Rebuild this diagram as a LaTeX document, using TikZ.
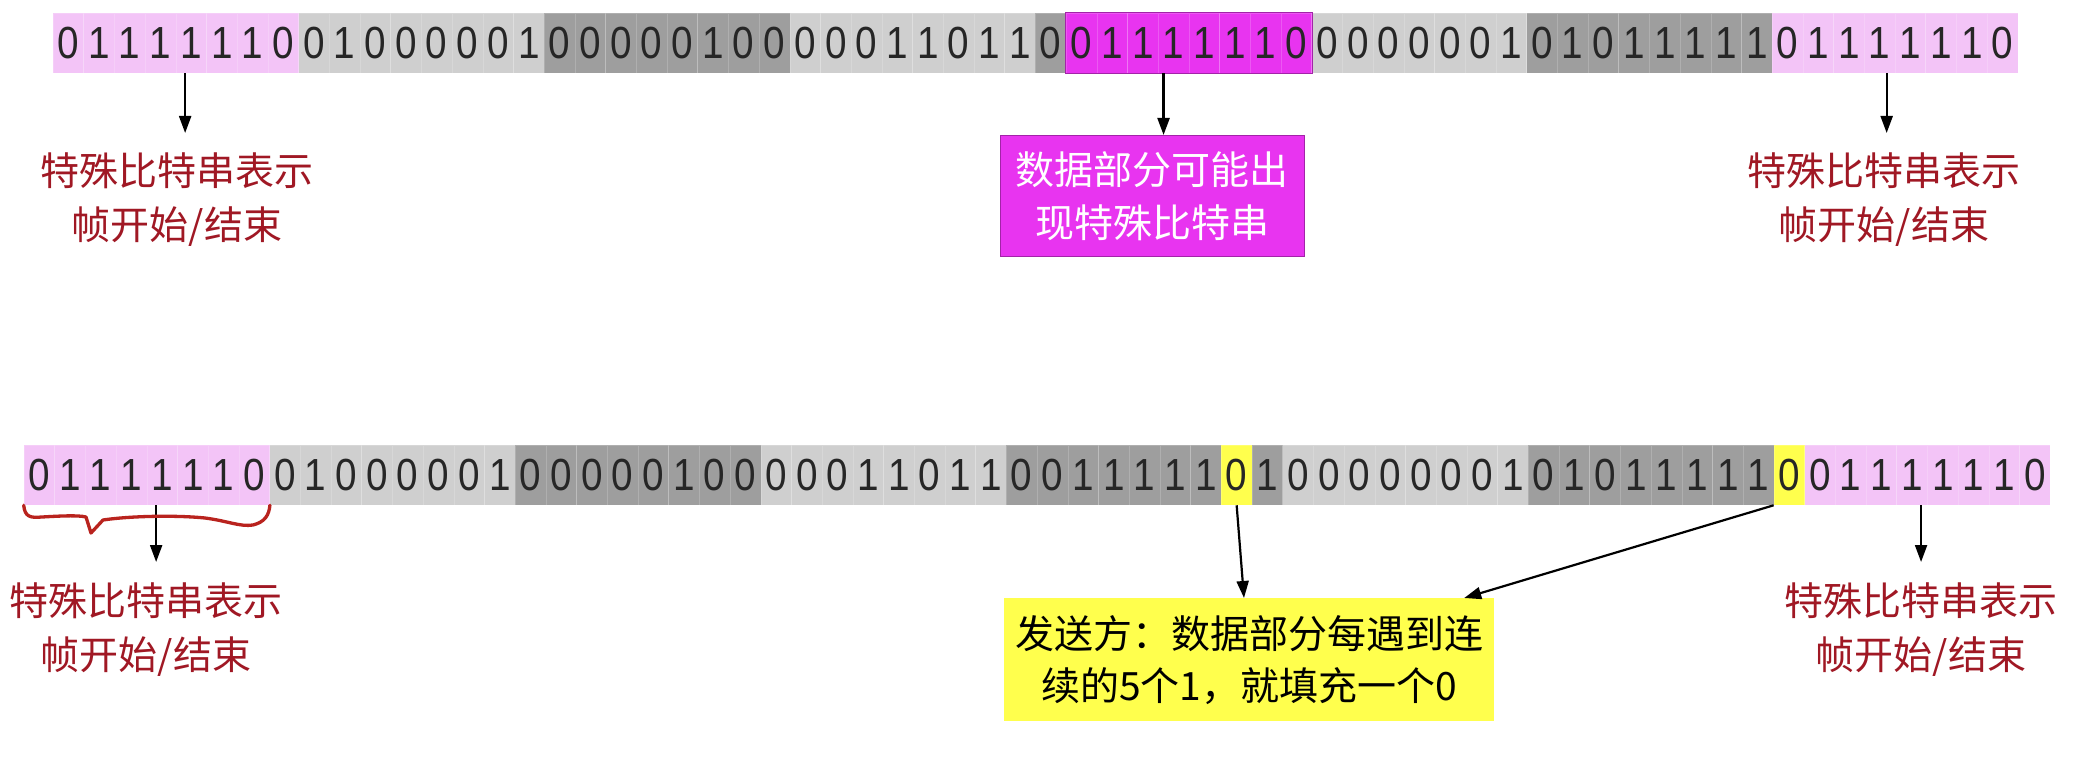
\documentclass[tikz,border=0pt]{standalone}
\usepackage{fontspec}
\newfontfamily\cjk{Noto Sans CJK SC}
\newfontfamily\digitfont[FakeStretch=0.86]{Liberation Sans}
\usetikzlibrary{arrows.meta}
\definecolor{pinkc}{RGB}{243,196,247}
\definecolor{lgray}{RGB}{207,207,207}
\definecolor{dgray}{RGB}{158,158,158}
\definecolor{magc}{RGB}{232,52,240}
\definecolor{yelc}{RGB}{255,255,77}
\definecolor{labred}{RGB}{160,24,36}
\definecolor{bracered}{RGB}{185,35,30}
\newcount\cellnum
\newcommand\bitgroup[5]{%
  \foreach \b in {#5}{%
    \global\advance\cellnum by 1
    \edef\idx{\the\cellnum}%
    \node[cell, fill=#4] (#1\idx) at ({#2+(\idx-0.5)*30.7}, #3) {\b};
  }}
\begin{document}
\begin{tikzpicture}[x=1pt,y=-1pt,
  cell/.style={rectangle, minimum width=30.7pt, minimum height=60pt, inner sep=0pt,
    draw=white, draw opacity=0.18, line width=0.6pt, text=black!85,
    font=\digitfont\fontsize{45}{48}\selectfont},
  lbl/.style={font=\cjk\fontsize{39}{54}\selectfont, text=labred, align=center,
    inner xsep=0pt, inner ysep=20pt, anchor=north},
  arr/.style={-{Triangle[length=17pt,width=12pt]}, line width=2.2pt},
  bracepen/.style={bracered, line width=3.3pt, line cap=round, line join=round}
  ]
\useasboundingbox (0,0) rectangle (2089,767);
\fill[white] (0,0) rectangle (2089,767);

% top row
\global\cellnum=0
\bitgroup{t}{53}{43}{pinkc}{0,1,1,1,1,1,1,0}
\bitgroup{t}{53}{43}{lgray}{0,1,0,0,0,0,0,1}
\bitgroup{t}{53}{43}{dgray}{0,0,0,0,0,1,0,0}
\bitgroup{t}{53}{43}{lgray}{0,0,0,1,1,0,1,1}
\bitgroup{t}{53}{43}{dgray}{0}
\bitgroup{t}{53}{43}{magc}{0,1,1,1,1,1,1,0}
\bitgroup{t}{53}{43}{lgray}{0,0,0,0,0,0,1}
\bitgroup{t}{53}{43}{dgray}{0,1,0,1,1,1,1,1}
\bitgroup{t}{53}{43}{pinkc}{0,1,1,1,1,1,1,0}
\draw[magc!70!black, line width=1pt] (t34.north west) rectangle (t41.south east);

% bottom row
\global\cellnum=0
\bitgroup{b}{24}{475}{pinkc}{0,1,1,1,1,1,1,0}
\bitgroup{b}{24}{475}{lgray}{0,1,0,0,0,0,0,1}
\bitgroup{b}{24}{475}{dgray}{0,0,0,0,0,1,0,0}
\bitgroup{b}{24}{475}{lgray}{0,0,0,1,1,0,1,1}
\bitgroup{b}{24}{475}{dgray}{0,0,1,1,1,1,1}
\bitgroup{b}{24}{475}{yelc}{0}
\bitgroup{b}{24}{475}{dgray}{1}
\bitgroup{b}{24}{475}{lgray}{0,0,0,0,0,0,0,1}
\bitgroup{b}{24}{475}{dgray}{0,1,0,1,1,1,1,1}
\bitgroup{b}{24}{475}{yelc}{0}
\bitgroup{b}{24}{475}{pinkc}{0,1,1,1,1,1,1,0}

% labels
\node[lbl] (tl) at (177,133) {特殊比特串表示\\帧开始/结束};
\node[lbl] (tr) at (1884,133) {特殊比特串表示\\帧开始/结束};
\node[lbl] (bl) at (146,562) {特殊比特串表示\\帧开始/结束};
\node[lbl] (br) at (1921,562) {特殊比特串表示\\帧开始/结束};

\node[font=\cjk\fontsize{39}{53}\selectfont, text=white, fill=magc,
  draw=magc!70!black, line width=1pt, minimum width=304pt, minimum height=121pt,
  inner sep=0pt, align=center, anchor=north] (mb) at (1152,135)
  {数据部分可能出\\现特殊比特串};

\node[font=\cjk\fontsize{39}{52}\selectfont, text=black, fill=yelc,
  minimum width=490pt, minimum height=123pt, inner sep=0pt,
  align=center, anchor=north] (yb) at (1249,598)
  {发送方：数据部分每遇到连\\续的5个1，就填充一个0};

% arrows
\draw[arr] ([xshift=-6pt]t5.south) -- ([xshift=-6pt]t5.south |- tl.north);
\draw[arr] ([xshift=-10pt]t37.south) -- ([xshift=-10pt]t37.south |- mb.north);
\draw[arr] ([xshift=7pt]t60.south) -- ([xshift=7pt]t60.south |- tr.north);
\draw[arr] ([xshift=-6pt]b5.south) -- ([xshift=-6pt]b5.south |- bl.north);
\draw[arr] (b40.south) -- ([xshift=-5pt]yb.north);
\draw[arr] (b58.south west) -- ([xshift=-30pt]yb.north east);
\draw[arr] ([xshift=9pt]b62.south) -- ([xshift=9pt]b62.south |- br.north);

% red hand-drawn brace
\draw[bracepen] (b1.south west) .. controls (25,517) and (30,518) .. (42,517)
  .. controls (60,516) and (78,515) .. (86,517) -- (91,533) -- (103,520)
  .. controls (130,516) and (175,515) .. (205,518)
  .. controls (228,521) and (240,527) .. (253,525)
  .. controls (265,522) and (269,515) .. (b8.south east);
\end{tikzpicture}
\end{document}
